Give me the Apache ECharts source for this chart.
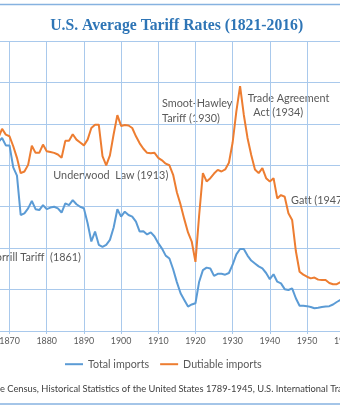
<!DOCTYPE html>
<html><head><meta charset="utf-8">
<script src="https://cdn.jsdelivr.net/npm/echarts@6/dist/echarts.min.js"></script>
<style>html,body{margin:0;padding:0;background:#fff}#c{width:340px;height:408px}</style>
</head><body><div id="c"></div>
<script>
const years = [1867,1868,1869,1870,1871,1872,1873,1874,1875,1876,
1877,1878,1879,1880,1881,1882,1883,1884,1885,1886,
1887,1888,1889,1890,1891,1892,1893,1894,1895,1896,
1897,1898,1899,1900,1901,1902,1903,1904,1905,1906,
1907,1908,1909,1910,1911,1912,1913,1914,1915,1916,
1917,1918,1919,1920,1921,1922,1923,1924,1925,1926,
1927,1928,1929,1930,1931,1932,1933,1934,1935,1936,
1937,1938,1939,1940,1941,1942,1943,1944,1945,1946,
1947,1948,1949,1950,1951,1952,1953,1954,1955,1956,
1957,1958,1959,1960];
const totalImports = [45.6,46.6,44.8,44.8,39.5,37.5,28.0,28.4,29.6,31.4,
29.4,29.2,30.4,29.4,29.8,30.0,29.6,28.6,30.8,30.4,
31.6,30.6,30.0,29.6,26.0,21.6,24.0,20.8,20.3,20.8,
22.0,25.0,29.4,27.6,28.8,28.0,27.6,26.4,24.0,24.1,
23.3,23.8,22.8,21.2,19.9,18.2,17.5,14.9,11.8,9.1,
7.5,5.9,6.4,6.7,11.9,14.7,15.3,15.1,13.3,13.8,
13.8,13.6,14.0,16.0,18.5,19.8,19.8,18.2,17.0,16.3,
15.6,15.1,14.0,12.5,13.7,11.9,11.5,10.1,9.9,10.3,
7.9,6.1,6.1,6.0,5.8,5.5,5.6,5.8,5.9,6.0,
6.4,7.0,7.5,7.8];
const dutiableImports = [46.6,48.8,47.4,47.0,44.6,41.8,38.1,38.5,40.1,44.7,
43.0,43.0,45.0,43.4,43.2,43.0,42.6,41.8,45.9,45.9,
47.5,46.2,45.5,44.8,46.2,49.0,49.8,49.8,42.2,40.0,
42.4,47.5,52.1,49.5,49.7,49.6,49.0,47.0,45.3,44.0,
43.0,42.9,43.0,41.8,41.2,40.4,40.0,37.7,33.5,30.5,
27.0,23.8,21.6,16.7,28.0,38.1,36.1,36.9,38.0,38.9,
38.5,39.0,40.6,45.5,53.0,59.1,52.2,46.6,42.5,39.0,
38.1,39.3,36.9,36.1,36.9,32.0,32.8,32.4,28.4,26.8,
19.3,14.3,13.6,13.1,12.7,12.9,12.4,12.3,12.3,11.6,
11.3,11.3,11.8,12.2];
const seriesNames = ['Total imports','Dutiable imports'];
const titleText = 'U.S. Average Tariff Rates (1821-2016)';
const sourceText = 'the Census, Historical Statistics of the United States 1789-1945, U.S. International Trade Commission';

const ctx = document.createElement('canvas').getContext('2d');
function measure(text, font){ ctx.font = font; return ctx.measureText(text).width; }
function fitSize(text, width, family, weight){ return 100*width/measure(text,(weight||'normal')+' 100px '+family); }

const SANS = 'Lato';
const annSize = (fitSize('Smoot-Hawley',70,SANS)+fitSize('Trade Agreement',82.3,SANS))/2;
const axisSize = fitSize('1880',20.6,SANS);
const legSize = (fitSize('Total imports',61,SANS)+fitSize('Dutiable imports',79,SANS))/2;
const srcSize = fitSize('Census, Historical Statistics of the United States 1789-1945, U.S. International',320.7,SANS);
const titleSize = fitSize(titleText,253,'Liberation Serif','bold');
const srcX = 7.3 - measure('the ','normal '+srcSize+'px '+SANS);

const gray = '#595959';
function txt(text, x, y, size, align, fill){
  return {type:'text', x:x, y:y, silent:true, style:{text:text, fill:fill||gray,
    font:'normal '+size.toFixed(2)+'px '+SANS, textAlign:align||'left', textVerticalAlign:'middle',
    align:align||'left', verticalAlign:'middle'}};
}

const gridColor = '#A9C9EC';
const chart = echarts.init(document.getElementById('c'), null, {renderer:'canvas'});
chart.setOption({
  backgroundColor:'#ffffff',
  animation:false,
  grid:{left:-176.4, width:743.7, top:41, height:290, containLabel:false, outerBoundsMode:'none'},
  xAxis:{type:'value', min:1820, max:2020, interval:10,
    axisLine:{show:true, lineStyle:{color:gridColor, width:1}},
    axisTick:{show:true, length:3, lineStyle:{color:gridColor}},
    splitLine:{show:true, lineStyle:{color:gridColor, width:1}},
    axisLabel:{color:gray, fontSize:axisSize, fontFamily:SANS, margin:6, formatter:v=>String(v)}},
  yAxis:{type:'value', min:0, max:70, interval:10,
    axisLine:{show:false}, axisTick:{show:false}, axisLabel:{show:false},
    splitLine:{show:true, lineStyle:{color:gridColor, width:1}}},
  legend:{data:seriesNames, left:65, top:358.7, padding:0, icon:'rect', itemWidth:18, itemHeight:2, itemGap:11,
    textStyle:{color:gray, fontSize:legSize, fontFamily:SANS}},
  series:[
    {name:seriesNames[0], type:'line', data:years.map((y,i)=>[y,totalImports[i]]),
      symbol:'none', lineStyle:{color:'#5B9BD5', width:2}, itemStyle:{color:'#5B9BD5'}},
    {name:seriesNames[1], type:'line', data:years.map((y,i)=>[y,dutiableImports[i]]),
      symbol:'none', lineStyle:{color:'#ED7D31', width:2}, itemStyle:{color:'#ED7D31'}}
  ],
  graphic:[
    {type:'line', silent:true, shape:{x1:0,y1:4.5,x2:340,y2:4.5}, style:{stroke:'#86B2E0', lineWidth:1.5}},
    {type:'line', silent:true, shape:{x1:0,y1:404,x2:340,y2:404}, style:{stroke:'#86B2E0', lineWidth:1.5}},
    {type:'text', x:176.7, y:25.7, silent:true, style:{text:titleText, fill:'#2E75B6',
      font:'bold '+titleSize.toFixed(2)+'px "Liberation Serif"', textAlign:'center', textVerticalAlign:'middle', align:'center', verticalAlign:'middle'}},
    txt('Smoot-Hawley',162,103,annSize),
    txt('Tariff (1930)',162,118,annSize),
    txt('Trade Agreement',247.7,98.5,annSize),
    txt('Act (1934)',253.3,112.3,annSize),
    txt('Underwood  Law (1913)',53.3,175.7,annSize),
    txt('Gatt (1947)',291,200,annSize),
    txt('Morrill Tariff  (1861)',81,257.7,annSize,'right'),
    txt(sourceText,srcX,389,srcSize,'left','#404040')
  ]
});
</script></body></html>
